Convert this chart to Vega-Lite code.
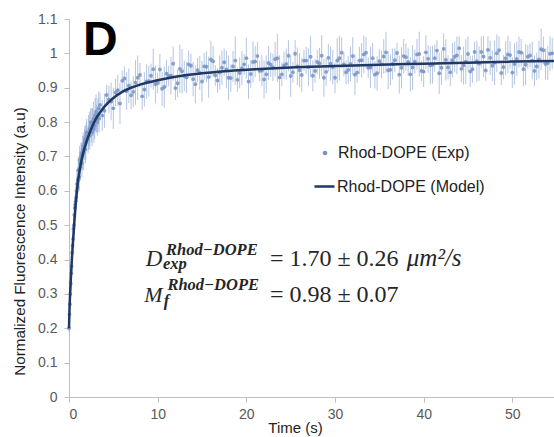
{
  "$schema": "https://vega.github.io/schema/vega-lite/v6.json",
  "width": 485,
  "height": 378,
  "autosize": {"type": "none"},
  "padding": {"left": 69, "top": 19, "right": 0, "bottom": 40},
  "background": "white",
  "config": {
    "view": {"stroke": null},
    "axis": {
      "grid": false,
      "domainColor": "#bfbfbf",
      "tickColor": "#bfbfbf",
      "tickSize": 5,
      "labelColor": "#595959",
      "labelFont": "Liberation Sans",
      "labelFontSize": 14,
      "titleColor": "#222222",
      "titleFont": "Liberation Sans",
      "titleFontWeight": "normal"
    }
  },
  "datasets": {
    "exp": [
      {"t":0.0,"y":0.20,"e":0.01},{"t":0.05,"y":0.24,"e":0.02},{"t":0.1,"y":0.27,"e":0.02},{"t":0.15,"y":0.30,"e":0.02},{"t":0.2,"y":0.33,"e":0.02},
      {"t":0.25,"y":0.36,"e":0.02},{"t":0.3,"y":0.38,"e":0.02},{"t":0.35,"y":0.42,"e":0.03},{"t":0.4,"y":0.44,"e":0.03},{"t":0.45,"y":0.46,"e":0.03},
      {"t":0.5,"y":0.49,"e":0.03},{"t":0.55,"y":0.50,"e":0.03},{"t":0.6,"y":0.53,"e":0.03},{"t":0.65,"y":0.55,"e":0.03},{"t":0.7,"y":0.56,"e":0.03},
      {"t":0.75,"y":0.57,"e":0.03},{"t":0.8,"y":0.58,"e":0.03},{"t":0.85,"y":0.60,"e":0.04},{"t":0.9,"y":0.62,"e":0.04},{"t":0.95,"y":0.61,"e":0.03},
      {"t":1.0,"y":0.63,"e":0.04},{"t":1.05,"y":0.66,"e":0.04},{"t":1.1,"y":0.66,"e":0.03},{"t":1.15,"y":0.64,"e":0.04},{"t":1.2,"y":0.69,"e":0.04},
      {"t":1.25,"y":0.68,"e":0.03},{"t":1.3,"y":0.67,"e":0.04},{"t":1.35,"y":0.70,"e":0.04},{"t":1.4,"y":0.71,"e":0.03},{"t":1.45,"y":0.68,"e":0.04},
      {"t":1.5,"y":0.70,"e":0.04},{"t":1.55,"y":0.72,"e":0.04},{"t":1.6,"y":0.73,"e":0.04},{"t":1.65,"y":0.71,"e":0.05},{"t":1.7,"y":0.72,"e":0.03},
      {"t":1.75,"y":0.74,"e":0.04},{"t":1.8,"y":0.75,"e":0.04},{"t":1.85,"y":0.72,"e":0.04},{"t":1.9,"y":0.74,"e":0.05},{"t":1.95,"y":0.76,"e":0.04},
      {"t":2.0,"y":0.77,"e":0.04},{"t":2.15,"y":0.75,"e":0.04},{"t":2.2,"y":0.77,"e":0.05},{"t":2.3,"y":0.78,"e":0.05},{"t":2.35,"y":0.76,"e":0.04},
      {"t":2.45,"y":0.80,"e":0.04},{"t":2.5,"y":0.79,"e":0.05},{"t":2.6,"y":0.77,"e":0.04},{"t":2.65,"y":0.80,"e":0.04},{"t":2.75,"y":0.81,"e":0.05},
      {"t":2.8,"y":0.78,"e":0.04},{"t":2.9,"y":0.79,"e":0.04},{"t":2.95,"y":0.82,"e":0.05},{"t":3.05,"y":0.83,"e":0.05},{"t":3.1,"y":0.81,"e":0.04},
      {"t":3.2,"y":0.80,"e":0.04},{"t":3.25,"y":0.82,"e":0.05},{"t":3.35,"y":0.84,"e":0.05},{"t":3.4,"y":0.81,"e":0.04},
      {"t":3.5,"y":0.850,"e":0.035},{"t":4.0,"y":0.833,"e":0.05},{"t":4.5,"y":0.866,"e":0.04},{"t":5.0,"y":0.840,"e":0.06},
      {"t":5.5,"y":0.893,"e":0.045},{"t":6.0,"y":0.920,"e":0.03},{"t":6.5,"y":0.890,"e":0.055},{"t":7.0,"y":0.878,"e":0.04},
      {"t":7.5,"y":0.915,"e":0.065},{"t":8.0,"y":0.937,"e":0.035},{"t":8.5,"y":0.895,"e":0.05},{"t":9.0,"y":0.919,"e":0.045},
      {"t":9.5,"y":0.954,"e":0.06},{"t":10.0,"y":0.914,"e":0.03},{"t":10.5,"y":0.897,"e":0.05},{"t":11.0,"y":0.941,"e":0.04},
      {"t":11.5,"y":0.935,"e":0.055},{"t":12.0,"y":0.899,"e":0.035},{"t":12.5,"y":0.955,"e":0.07},{"t":13.0,"y":0.934,"e":0.045},
      {"t":13.5,"y":0.968,"e":0.04},{"t":14.0,"y":0.925,"e":0.05},{"t":14.5,"y":0.951,"e":0.035},{"t":15.0,"y":0.918,"e":0.06},
      {"t":15.5,"y":0.961,"e":0.045},{"t":16.0,"y":0.982,"e":0.055},{"t":16.5,"y":0.936,"e":0.03},{"t":17.0,"y":0.944,"e":0.05},
      {"t":17.5,"y":0.974,"e":0.04},{"t":18.0,"y":0.929,"e":0.065},{"t":18.5,"y":0.962,"e":0.045},{"t":19.0,"y":0.923,"e":0.035},
      {"t":19.5,"y":0.957,"e":0.05},{"t":20.0,"y":0.986,"e":0.06},{"t":20.5,"y":0.940,"e":0.04},{"t":21.0,"y":0.976,"e":0.045},
      {"t":21.5,"y":0.949,"e":0.03},{"t":22.0,"y":0.924,"e":0.055},{"t":22.5,"y":0.972,"e":0.05},{"t":23.0,"y":0.959,"e":0.04},
      {"t":23.5,"y":0.986,"e":0.07},{"t":24.0,"y":0.939,"e":0.035},{"t":24.5,"y":0.969,"e":0.045},{"t":25.0,"y":0.934,"e":0.06},
      {"t":25.5,"y":0.999,"e":0.04},{"t":26.0,"y":0.951,"e":0.05},{"t":26.5,"y":0.979,"e":0.03},{"t":27.0,"y":0.960,"e":0.055},
      {"t":27.5,"y":0.935,"e":0.045},{"t":28.0,"y":0.975,"e":0.035},{"t":28.5,"y":0.993,"e":0.06},{"t":29.0,"y":0.946,"e":0.04},
      {"t":29.5,"y":0.970,"e":0.05},{"t":30.0,"y":0.929,"e":0.045},{"t":30.5,"y":0.986,"e":0.065},{"t":31.0,"y":0.968,"e":0.035},
      {"t":31.5,"y":0.952,"e":0.04},{"t":32.0,"y":0.992,"e":0.055},{"t":32.5,"y":0.944,"e":0.03},{"t":33.0,"y":0.980,"e":0.05},
      {"t":33.5,"y":1.002,"e":0.045},{"t":34.0,"y":0.959,"e":0.06},{"t":34.5,"y":0.938,"e":0.04},{"t":35.0,"y":0.977,"e":0.035},
      {"t":35.5,"y":0.991,"e":0.05},{"t":36.0,"y":0.951,"e":0.055},{"t":36.5,"y":0.969,"e":0.045},{"t":37.0,"y":1.001,"e":0.03},
      {"t":37.5,"y":0.958,"e":0.06},{"t":38.0,"y":0.989,"e":0.04},{"t":38.5,"y":0.939,"e":0.05},{"t":39.0,"y":0.976,"e":0.035},
      {"t":39.5,"y":0.998,"e":0.065},{"t":40.0,"y":0.947,"e":0.045},{"t":40.5,"y":0.984,"e":0.04},{"t":41.0,"y":0.967,"e":0.055},
      {"t":41.5,"y":1.008,"e":0.03},{"t":42.0,"y":0.958,"e":0.05},{"t":42.5,"y":0.981,"e":0.06},{"t":43.0,"y":0.945,"e":0.04},
      {"t":43.5,"y":0.990,"e":0.045},{"t":44.0,"y":1.015,"e":0.035},{"t":44.5,"y":0.965,"e":0.055},{"t":45.0,"y":0.998,"e":0.05},
      {"t":45.5,"y":0.954,"e":0.04},{"t":46.0,"y":0.977,"e":0.06},{"t":46.5,"y":1.004,"e":0.045},{"t":47.0,"y":0.950,"e":0.03},
      {"t":47.5,"y":0.987,"e":0.05},{"t":48.0,"y":0.973,"e":0.065},{"t":48.5,"y":1.009,"e":0.04},{"t":49.0,"y":0.960,"e":0.035},
      {"t":49.5,"y":0.997,"e":0.055},{"t":50.0,"y":0.944,"e":0.045},{"t":50.5,"y":0.984,"e":0.05},{"t":51.0,"y":1.002,"e":0.04},
      {"t":51.5,"y":0.967,"e":0.06},{"t":52.0,"y":0.994,"e":0.035},{"t":52.5,"y":0.949,"e":0.045},{"t":53.0,"y":0.982,"e":0.055},
      {"t":53.5,"y":1.009,"e":0.04},{"t":54.0,"y":0.972,"e":0.05},{"t":54.5,"y":1.000,"e":0.045},
      {"t":3.75,"y":0.819,"e":0.045},{"t":4.25,"y":0.879,"e":0.03},{"t":4.75,"y":0.860,"e":0.055},{"t":5.25,"y":0.886,"e":0.04},
      {"t":5.75,"y":0.854,"e":0.06},{"t":6.25,"y":0.927,"e":0.035},{"t":6.75,"y":0.906,"e":0.05},{"t":7.25,"y":0.888,"e":0.045},
      {"t":7.75,"y":0.929,"e":0.065},{"t":8.25,"y":0.875,"e":0.04},{"t":8.75,"y":0.918,"e":0.05},{"t":9.25,"y":0.935,"e":0.035},
      {"t":9.75,"y":0.910,"e":0.055},{"t":10.25,"y":0.953,"e":0.045},{"t":10.75,"y":0.902,"e":0.06},{"t":11.25,"y":0.934,"e":0.03},
      {"t":11.75,"y":0.970,"e":0.05},{"t":12.25,"y":0.913,"e":0.04},{"t":12.75,"y":0.948,"e":0.065},{"t":13.25,"y":0.930,"e":0.045},
      {"t":13.75,"y":0.964,"e":0.035},{"t":14.25,"y":0.910,"e":0.055},{"t":14.75,"y":0.943,"e":0.05},{"t":15.25,"y":0.962,"e":0.04},
      {"t":15.75,"y":0.931,"e":0.06},{"t":16.25,"y":0.977,"e":0.045},{"t":16.75,"y":0.921,"e":0.035},{"t":17.25,"y":0.958,"e":0.05},
      {"t":17.75,"y":0.953,"e":0.055},{"t":18.25,"y":0.928,"e":0.04},{"t":18.75,"y":0.979,"e":0.07},{"t":19.25,"y":0.943,"e":0.045},
      {"t":19.75,"y":0.968,"e":0.03},{"t":20.25,"y":0.918,"e":0.05},{"t":20.75,"y":0.975,"e":0.06},{"t":21.25,"y":0.992,"e":0.04},
      {"t":21.75,"y":0.950,"e":0.045},{"t":22.25,"y":0.939,"e":0.055},{"t":22.75,"y":0.967,"e":0.035},{"t":23.25,"y":0.983,"e":0.05},
      {"t":23.75,"y":0.930,"e":0.065},{"t":24.25,"y":0.965,"e":0.04},{"t":24.75,"y":0.993,"e":0.045},{"t":25.25,"y":0.945,"e":0.03},
      {"t":25.75,"y":0.962,"e":0.055},{"t":26.25,"y":0.937,"e":0.05},{"t":26.75,"y":0.979,"e":0.04},{"t":27.25,"y":0.990,"e":0.06},
      {"t":27.75,"y":0.949,"e":0.035},{"t":28.25,"y":0.971,"e":0.045},{"t":28.75,"y":0.929,"e":0.055},{"t":29.25,"y":0.987,"e":0.04},
      {"t":29.75,"y":0.960,"e":0.05},{"t":30.25,"y":0.979,"e":0.065},{"t":30.75,"y":1.002,"e":0.045},{"t":31.25,"y":0.945,"e":0.035},
      {"t":31.75,"y":0.969,"e":0.05},{"t":32.25,"y":0.938,"e":0.06},{"t":32.75,"y":0.979,"e":0.04},{"t":33.25,"y":0.997,"e":0.055},
      {"t":33.75,"y":0.958,"e":0.03},{"t":34.25,"y":0.986,"e":0.045},{"t":34.75,"y":0.942,"e":0.05},{"t":35.25,"y":0.968,"e":0.04},
      {"t":35.75,"y":1.003,"e":0.06},{"t":36.25,"y":0.952,"e":0.045},{"t":36.75,"y":0.980,"e":0.035},{"t":37.25,"y":0.938,"e":0.055},
      {"t":37.75,"y":0.992,"e":0.05},{"t":38.25,"y":0.975,"e":0.04},{"t":38.75,"y":0.959,"e":0.065},{"t":39.25,"y":0.997,"e":0.045},
      {"t":39.75,"y":0.949,"e":0.03},{"t":40.25,"y":1.003,"e":0.05},{"t":40.75,"y":0.965,"e":0.055},{"t":41.25,"y":0.986,"e":0.04},
      {"t":41.75,"y":0.942,"e":0.06},{"t":42.25,"y":1.013,"e":0.045},{"t":42.75,"y":0.959,"e":0.035},{"t":43.25,"y":0.980,"e":0.05},
      {"t":43.75,"y":0.994,"e":0.055},{"t":44.25,"y":0.955,"e":0.04},{"t":44.75,"y":0.976,"e":0.065},{"t":45.25,"y":0.947,"e":0.045},
      {"t":45.75,"y":1.004,"e":0.03},{"t":46.25,"y":0.970,"e":0.05},{"t":46.75,"y":0.991,"e":0.06},{"t":47.25,"y":1.010,"e":0.04},
      {"t":47.75,"y":0.964,"e":0.045},{"t":48.25,"y":1.000,"e":0.055},{"t":48.75,"y":0.943,"e":0.035},{"t":49.25,"y":0.986,"e":0.05},
      {"t":49.75,"y":0.995,"e":0.04},{"t":50.25,"y":0.969,"e":0.06},{"t":50.75,"y":1.004,"e":0.045},{"t":51.25,"y":0.954,"e":0.05},
      {"t":51.75,"y":0.990,"e":0.035},{"t":52.25,"y":0.979,"e":0.055},{"t":52.75,"y":0.962,"e":0.04},{"t":53.25,"y":1.012,"e":0.06},
      {"t":53.75,"y":0.969,"e":0.045},{"t":54.25,"y":0.999,"e":0.05}
    ],
    "model": [
      {"t":0,"y":0.20},{"t":0.05,"y":0.25},{"t":0.1,"y":0.285},{"t":0.2,"y":0.34},{"t":0.3,"y":0.39},
      {"t":0.5,"y":0.47},{"t":0.75,"y":0.56},{"t":1,"y":0.625},{"t":1.25,"y":0.668},{"t":1.5,"y":0.70},
      {"t":2,"y":0.745},{"t":2.5,"y":0.78},{"t":3,"y":0.808},{"t":3.5,"y":0.828},{"t":4,"y":0.845},
      {"t":5,"y":0.87},{"t":6,"y":0.888},{"t":7,"y":0.90},{"t":8,"y":0.909},{"t":10,"y":0.922},
      {"t":12,"y":0.932},{"t":15,"y":0.942},{"t":18,"y":0.949},{"t":21,"y":0.954},{"t":25,"y":0.959},
      {"t":30,"y":0.963},{"t":35,"y":0.967},{"t":40,"y":0.970},{"t":45,"y":0.973},{"t":50,"y":0.976},{"t":54.7,"y":0.978}
    ]
  },
  "encoding": {
    "x": {
      "type": "quantitative",
      "scale": {"domain": [0, 54.7], "nice": false, "zero": false},
      "axis": {"values": [0,10,20,30,40,50], "format": "d", "labelPadding": 5, "title": "Time (s)", "titleFontSize": 15, "titleX": 226, "titleY": 35, "titleBaseline": "alphabetic", "titleAnchor": null}
    },
    "y": {
      "type": "quantitative",
      "scale": {"domain": [0, 1.1], "nice": false},
      "axis": {"values": [0,0.1,0.2,0.3,0.4,0.5,0.6,0.7,0.8,0.9,1,1.1], "labelExpr": "format(datum.value, '.1~f')", "labelPadding": 7, "title": "Normalized Fluorescence Intensity (a.u)", "titleFontSize": 15.2, "titleX": -45, "titleY": 222, "titleAngle": -90, "titleAlign": "center", "titleBaseline": "alphabetic"}
    }
  },
  "layer": [
    {
      "data": {"name": "exp"},
      "mark": {"type": "errorbar", "color": "#9bb1d5", "opacity": 0.75, "thickness": 1},
      "encoding": {
        "x": {"field": "t", "type": "quantitative"},
        "y": {"field": "y", "type": "quantitative"},
        "yError": {"field": "e"}
      }
    },
    {
      "data": {"name": "exp"},
      "mark": {"type": "point", "filled": true, "size": 15, "opacity": 0.85},
      "encoding": {
        "x": {"field": "t", "type": "quantitative"},
        "y": {"field": "y", "type": "quantitative"},
        "fill": {
          "datum": "Rhod-DOPE (Exp)",
          "type": "nominal",
          "scale": {"domain": ["Rhod-DOPE (Exp)"], "range": ["#7593c6"]},
          "legend": {
            "orient": "none", "legendX": 248, "legendY": 126, "title": null, "padding": 0,
            "symbolType": "circle", "symbolSize": 22, "symbolOpacity": 1, "symbolFillColor": "#9db5d9",
            "labelFont": "Liberation Sans", "labelFontSize": 16, "labelColor": "#222222", "labelOffset": 5
          }
        }
      }
    },
    {
      "data": {"name": "model"},
      "mark": {"type": "line", "strokeWidth": 2.5, "interpolate": "monotone"},
      "encoding": {
        "x": {"field": "t", "type": "quantitative"},
        "y": {"field": "y", "type": "quantitative"},
        "stroke": {
          "datum": "Rhod-DOPE (Model)",
          "type": "nominal",
          "scale": {"domain": ["Rhod-DOPE (Model)"], "range": ["#1f3864"]},
          "legend": {
            "orient": "none", "legendX": 244, "legendY": 156, "title": null, "padding": 0,
            "symbolType": "stroke", "symbolSize": 400, "symbolStrokeWidth": 2.5,
            "labelFont": "Liberation Sans", "labelFontSize": 16, "labelColor": "#222222", "labelOffset": 1
          }
        }
      }
    },
    {
      "data": {"values": [{}]},
      "mark": {"type": "text", "text": "D", "font": "Liberation Sans", "fontWeight": "bold", "fontSize": 48, "align": "left", "baseline": "alphabetic", "color": "#000000"},
      "encoding": {"x": {"datum": 1.58, "type": "quantitative"}, "y": {"datum": 0.995, "type": "quantitative"}}
    },
    {
      "data": {"values": [{}]},
      "mark": {"type": "text", "text": "D", "font": "Liberation Serif", "fontStyle": "italic", "fontSize": 23, "align": "left", "baseline": "alphabetic", "color": "#262626"},
      "encoding": {"x": {"datum": 8.65, "type": "quantitative"}, "y": {"datum": 0.381, "type": "quantitative"}}
    },
    {
      "data": {"values": [{}]},
      "mark": {"type": "text", "text": "Rhod−DOPE", "font": "Liberation Serif", "fontStyle": "italic", "fontWeight": "bold", "fontSize": 16.5, "align": "left", "baseline": "alphabetic", "color": "#262626"},
      "encoding": {"x": {"datum": 10.95, "type": "quantitative"}, "y": {"datum": 0.412, "type": "quantitative"}}
    },
    {
      "data": {"values": [{}]},
      "mark": {"type": "text", "text": "exp", "font": "Liberation Serif", "fontStyle": "italic", "fontWeight": "bold", "fontSize": 16.5, "align": "left", "baseline": "alphabetic", "color": "#262626"},
      "encoding": {"x": {"datum": 10.6, "type": "quantitative"}, "y": {"datum": 0.372, "type": "quantitative"}}
    },
    {
      "data": {"values": [{}]},
      "mark": {"type": "text", "text": "= 1.70 ± 0.26", "font": "Liberation Serif", "fontSize": 24, "align": "left", "baseline": "alphabetic", "color": "#262626"},
      "encoding": {"x": {"datum": 22.66, "type": "quantitative"}, "y": {"datum": 0.381, "type": "quantitative"}}
    },
    {
      "data": {"values": [{}]},
      "mark": {"type": "text", "text": "μm²/s", "font": "Liberation Serif", "fontStyle": "italic", "fontSize": 25, "align": "left", "baseline": "alphabetic", "color": "#262626"},
      "encoding": {"x": {"datum": 38.1, "type": "quantitative"}, "y": {"datum": 0.381, "type": "quantitative"}}
    },
    {
      "data": {"values": [{}]},
      "mark": {"type": "text", "text": "M", "font": "Liberation Serif", "fontStyle": "italic", "fontSize": 22, "align": "left", "baseline": "alphabetic", "color": "#262626"},
      "encoding": {"x": {"datum": 8.5, "type": "quantitative"}, "y": {"datum": 0.2765, "type": "quantitative"}}
    },
    {
      "data": {"values": [{}]},
      "mark": {"type": "text", "text": "Rhod−DOPE", "font": "Liberation Serif", "fontStyle": "italic", "fontWeight": "bold", "fontSize": 16.5, "align": "left", "baseline": "alphabetic", "color": "#262626"},
      "encoding": {"x": {"datum": 11.1, "type": "quantitative"}, "y": {"datum": 0.31, "type": "quantitative"}}
    },
    {
      "data": {"values": [{}]},
      "mark": {"type": "text", "text": "f", "font": "Liberation Serif", "fontStyle": "italic", "fontWeight": "bold", "fontSize": 16.5, "align": "left", "baseline": "alphabetic", "color": "#262626"},
      "encoding": {"x": {"datum": 10.7, "type": "quantitative"}, "y": {"datum": 0.266, "type": "quantitative"}}
    },
    {
      "data": {"values": [{}]},
      "mark": {"type": "text", "text": "= 0.98 ± 0.07", "font": "Liberation Serif", "fontSize": 24, "align": "left", "baseline": "alphabetic", "color": "#262626"},
      "encoding": {"x": {"datum": 22.66, "type": "quantitative"}, "y": {"datum": 0.2765, "type": "quantitative"}}
    }
  ]
}
